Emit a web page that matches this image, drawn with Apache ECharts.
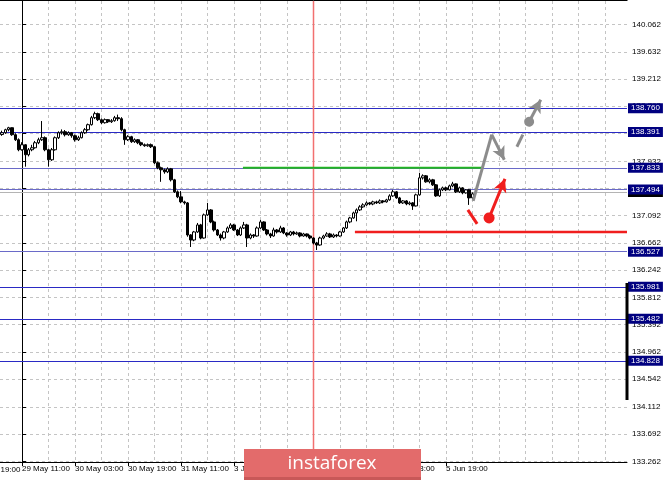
<!DOCTYPE html>
<html><head><meta charset="utf-8">
<script src="https://cdn.jsdelivr.net/npm/echarts@6/dist/echarts.min.js"></script>
<style>html,body{margin:0;padding:0;background:#fff}#c{width:665px;height:480px}</style>
</head><body><div id="c"></div>
<script>
// ---- data ----
// x unit: trading hours counted from 29 May 11:00 (H1 candles)
const xLabelHours = [-16, 0, 16, 32, 48, 64, 80, 96, 112, 128];
const xLabelTexts = ['28 May 19:00','29 May 11:00','30 May 03:00','30 May 19:00','31 May 11:00','3 Jun 03:00','3 Jun 19:00','4 Jun 11:00','5 Jun 03:00','5 Jun 19:00'];
const xGridHours = [0,8,16,24,32,40,48,56,64,72,80,88,96,104,112,120,128,136,144,152,160,168,176];
const priceTicks = ['133.262','133.692','134.112','134.542','134.962','135.392','135.812','136.242','136.662','137.092','137.512','137.932','138.372','138.792','139.212','139.632','140.062'];
const candleStartHour = -6;
// [open, close, low, high]
const candles = [
[138.350,138.378,138.330,138.410],[138.378,138.425,138.360,138.440],[138.425,138.456,138.400,138.470],[138.456,138.347,138.330,138.460],
[138.347,138.269,138.250,138.370],[138.269,138.113,138.090,138.290],[138.113,138.191,138.100,138.230],[138.191,138.035,137.850,138.200],
[138.035,138.113,138.010,138.140],[138.113,138.144,138.090,138.190],[138.144,138.222,138.130,138.250],[138.222,138.269,138.200,138.300],
[138.269,138.300,138.250,138.560],[138.300,138.113,138.090,138.320],[138.113,137.957,137.850,138.130],[137.957,138.113,137.940,138.140],
[138.113,138.300,138.100,138.320],[138.300,138.378,138.280,138.400],[138.378,138.394,138.350,138.430],[138.394,138.347,138.320,138.420],
[138.347,138.378,138.330,138.400],[138.378,138.331,138.300,138.390],[138.331,138.269,138.240,138.350],[138.269,138.300,138.250,138.330],
[138.300,138.378,138.290,138.400],[138.378,138.425,138.360,138.450],[138.425,138.503,138.410,138.520],[138.503,138.612,138.490,138.640],
[138.612,138.674,138.590,138.705],[138.674,138.581,138.560,138.690],[138.581,138.534,138.510,138.600],[138.534,138.581,138.520,138.600],
[138.581,138.549,138.530,138.590],[138.549,138.565,138.530,138.590],[138.565,138.612,138.550,138.640],[138.612,138.596,138.560,138.660],
[138.596,138.425,138.400,138.620],[138.425,138.269,138.190,138.440],[138.269,138.316,138.250,138.340],[138.316,138.238,138.220,138.330],
[138.238,138.269,138.220,138.290],[138.269,138.222,138.200,138.280],[138.222,138.191,138.170,138.240],[138.191,138.175,138.160,138.210],
[138.175,138.191,138.160,138.210],[138.191,138.160,138.140,138.210],[138.160,137.910,137.890,138.170],[137.910,137.832,137.810,137.930],
[137.832,137.801,137.614,137.850],[137.801,137.769,137.740,137.820],[137.769,137.816,137.750,137.840],[137.816,137.645,137.620,137.830],
[137.645,137.458,137.440,137.660],[137.458,137.380,137.360,137.480],[137.380,137.302,137.280,137.470],[137.302,137.286,137.260,137.320],
[137.286,136.787,136.760,137.300],[136.787,136.709,136.600,136.800],[136.709,136.834,136.690,136.850],[136.834,136.943,136.820,136.974],
[136.943,136.740,136.720,136.960],[136.740,137.099,136.730,137.120],[137.099,137.177,137.080,137.286],[137.177,136.990,136.970,137.190],
[136.990,136.865,136.840,137.010],[136.865,136.787,136.770,136.880],[136.787,136.740,136.700,136.810],[136.740,136.834,136.720,136.850],
[136.834,136.896,136.820,136.920],[136.896,136.943,136.880,136.970],[136.943,136.865,136.850,136.960],[136.865,136.787,136.770,136.880],
[136.787,136.896,136.770,136.920],[136.896,136.943,136.880,136.990],[136.943,136.740,136.600,136.960],[136.740,136.787,136.720,136.810],
[136.787,136.771,136.740,136.800],[136.771,136.896,136.760,136.920],[136.896,136.990,136.880,137.021],[136.990,136.865,136.850,137.000],
[136.865,136.803,136.780,136.880],[136.803,136.771,136.740,136.820],[136.771,136.865,136.760,136.900],[136.865,136.834,136.810,136.880],
[136.834,136.896,136.820,136.930],[136.896,136.818,136.800,136.910],[136.818,136.787,136.760,136.830],[136.787,136.834,136.770,136.850],
[136.834,136.803,136.780,136.850],[136.803,136.818,136.790,136.840],[136.818,136.771,136.750,136.830],[136.771,136.803,136.760,136.820],
[136.803,136.771,136.750,136.810],[136.771,136.740,136.720,136.790],[136.740,136.662,136.640,136.750],[136.662,136.631,136.553,136.680],
[136.631,136.740,136.620,136.760],[136.740,136.771,136.720,136.790],[136.771,136.803,136.760,136.830],[136.803,136.756,136.740,136.820],
[136.756,136.787,136.740,136.810],[136.787,136.771,136.750,136.800],[136.771,136.834,136.760,136.850],[136.834,136.896,136.820,136.910],
[136.896,136.990,136.880,137.010],[136.990,137.052,136.970,137.070],[137.052,137.130,137.040,137.150],[137.130,137.177,137.000,137.200],
[137.177,137.224,137.160,137.250],[137.224,137.255,137.210,137.280],[137.255,137.286,137.240,137.310],[137.286,137.270,137.250,137.300],
[137.270,137.302,137.250,137.320],[137.302,137.286,137.270,137.320],[137.286,137.317,137.270,137.340],[137.317,137.302,137.280,137.330],
[137.302,137.333,137.290,137.350],[137.333,137.395,137.320,137.420],[137.395,137.458,137.380,137.489],[137.458,137.364,137.350,137.470],
[137.364,137.286,137.270,137.380],[137.286,137.317,137.270,137.330],[137.317,137.270,137.250,137.330],[137.270,137.286,137.250,137.310],
[137.286,137.239,137.177,137.300],[137.239,137.411,137.230,137.430],[137.411,137.676,137.400,137.754],[137.676,137.707,137.650,137.730],
[137.707,137.614,137.600,137.720],[137.614,137.645,137.590,137.670],[137.645,137.567,137.550,137.660],[137.567,137.395,137.380,137.580],
[137.395,137.489,137.380,137.510],[137.489,137.520,137.470,137.540],[137.520,137.489,137.470,137.540],[137.489,137.551,137.480,137.570],
[137.551,137.582,137.530,137.614],[137.582,137.458,137.440,137.590],[137.458,137.520,137.440,137.540],[137.520,137.442,137.420,137.530],
[137.442,137.489,137.430,137.500],[137.489,137.364,137.255,137.500],[137.364,137.427,137.350,137.450]
];
const levels = [138.760, 138.391, 137.833, 137.494, 136.527, 135.981, 135.482, 134.828];
const lightLevels = [137.833, 137.494, 136.527];
const bidPrice = 137.455;
const markerHour = 88; // 4 Jun 03:00
const greenLine = [[66.7, 137.833], [139.2, 137.833]];
const redLine = [[100.5, 136.834], [182.64, 136.834]];
const redDash = [[134.6, 137.177], [137.4, 136.959]];
const redArrow = [[141.0, 137.052], [145.8, 137.660]];
const greyPath = [[136.2, 137.318], [141.8, 138.348], [145.6, 137.958]];
const greyDash = [[149.4, 138.160], [151.2, 138.348]];
const greyArrow = [[153.1, 138.550], [156.6, 138.892]];

// ---- chart ----
const FONT = '"Liberation Sans", Arial, sans-serif';
const X_MIN = -6.64, X_MAX = 182.64, Y_MIN = 133.254, Y_MAX = 140.428;
const chart = echarts.init(document.getElementById('c'), null, {renderer: 'canvas'});
const gridLine = {show: true, lineStyle: {color: '#c4c4c4', type: [3, 3], width: 1}};
function seg(a, b, extra) { return [Object.assign({coord: a}, extra && extra[0] || {}), Object.assign({coord: b}, extra && extra[1] || {})]; }
const noLabel = {show: false};
const priceLabel = (bg) => ({show: true, position: 'end', distance: 1, backgroundColor: bg, color: '#fff', fontSize: 8, fontFamily: FONT, padding: [1, 3, 1, 3], formatter: p => Number(p.value).toFixed(3)});

const option = {
  animation: false,
  backgroundColor: '#ffffff',
  grid: {left: 0, right: 38, top: 1, bottom: 18},
  xAxis: [{
    type: 'value', min: X_MIN, max: X_MAX, position: 'bottom',
    axisLine: {show: true, lineStyle: {color: '#000', width: 1}},
    axisTick: {show: false, customValues: xGridHours},
    axisLabel: {show: false, customValues: xGridHours},
    splitLine: gridLine
  }, {
    type: 'value', min: X_MIN, max: X_MAX, position: 'bottom',
    axisLine: {show: false},
    axisTick: {show: true, length: 4, customValues: xLabelHours, lineStyle: {color: '#000'}},
    axisLabel: {show: true, customValues: xLabelHours, align: 'left', margin: 3,
      color: '#000', fontSize: 8, fontFamily: FONT,
      formatter: v => xLabelTexts[xLabelHours.indexOf(v)] || ''},
    splitLine: {show: false}
  }],
  yAxis: {
    type: 'value', position: 'right', min: Y_MIN, max: Y_MAX,
    axisLine: {show: true, lineStyle: {color: '#000', width: 1}},
    axisTick: {show: true, length: 4, customValues: priceTicks.map(Number), lineStyle: {color: '#000'}},
    axisLabel: {show: true, customValues: priceTicks.map(Number), margin: 5, color: '#000', fontSize: 8, fontFamily: FONT,
      formatter: v => v.toFixed(3)},
    splitLine: gridLine
  },
  series: [{
    // horizontal levels with price boxes
    type: 'line', xAxisIndex: 0, data: [], silent: true, z: 1,
    markLine: {
      silent: true, symbol: 'none', animation: false, precision: 3, z: 1,
      data: [{yAxis: bidPrice, lineStyle: {color: '#b4b4b4', width: 1, type: 'solid'}, label: priceLabel('#000')}]
        .concat(levels.map(v => ({
          yAxis: v,
          lineStyle: {color: lightLevels.includes(v) ? '#6a6ac8' : '#2a2ac4', width: 1, type: 'solid'},
          label: priceLabel('#000080')
        })))
    }
  }, {
    type: 'line', xAxisIndex: 0, symbol: 'none', silent: true, z: 2,
    data: [[markerHour, Y_MIN], [markerHour, Y_MAX]],
    lineStyle: {color: '#f27070', width: 1.5, opacity: 1}
  }, {
    type: 'candlestick',
    xAxisIndex: 0, z: 3,
    barWidth: 3,
    encode: {x: 0, y: [1, 2, 3, 4]},
    data: candles.map((d, i) => [candleStartHour + i, d[0], d[1], d[2], d[3]]),
    itemStyle: {color: '#ffffff', color0: '#000000', borderColor: '#000000', borderColor0: '#000000', borderWidth: 1}
  }, {
    type: 'line', xAxisIndex: 0, data: greenLine, symbol: 'none', silent: true, z: 5,
    lineStyle: {color: '#22b422', width: 2}
  }, {
    type: 'line', xAxisIndex: 0, data: redLine, symbol: 'none', silent: true, z: 5,
    lineStyle: {color: '#f01e1e', width: 2.5}
  }, {
    type: 'line', xAxisIndex: 0, data: [], silent: true, z: 6,
    markLine: {
      silent: true, animation: false, symbol: 'none', label: noLabel, z: 6,
      data: [
        seg(redDash[0], redDash[1], [{lineStyle: {color: '#f01e1e', width: 3, type: 'solid'}}, {}]),
        seg(redArrow[0], redArrow[1], [{symbol: 'circle', symbolSize: 11, lineStyle: {color: '#f01e1e', width: 3, type: 'solid'}, itemStyle: {color: '#f01e1e'}}, {symbol: 'arrow', symbolSize: [10, 13], itemStyle: {color: '#f01e1e'}}]),
        seg(greyPath[0], greyPath[1], [{lineStyle: {color: '#8c8c8c', width: 3, type: 'solid'}}, {}]),
        seg(greyPath[1], greyPath[2], [{lineStyle: {color: '#8c8c8c', width: 3, type: 'solid'}, itemStyle: {color: '#8c8c8c'}}, {symbol: 'arrow', symbolSize: [10, 13], itemStyle: {color: '#8c8c8c'}}]),
        seg(greyDash[0], greyDash[1], [{lineStyle: {color: '#8c8c8c', width: 3, type: 'solid'}}, {}]),
        seg(greyArrow[0], greyArrow[1], [{symbol: 'circle', symbolSize: 10, lineStyle: {color: '#8c8c8c', width: 3, type: 'solid'}, itemStyle: {color: '#8c8c8c'}}, {symbol: 'arrow', symbolSize: [10, 13], itemStyle: {color: '#8c8c8c'}}])
      ]
    }
  }]
};
chart.setOption(option);

// decorations and partial first time label (position from the axis scale)
const firstX = chart.convertToPixel({xAxisIndex: 1}, xLabelHours[0]);
const axisX = chart.convertToPixel({xAxisIndex: 0}, X_MAX);
chart.setOption({
  graphic: [
    {type: 'line', shape: {x1: 0, y1: 0.5, x2: axisX + 0.5, y2: 0.5}, style: {stroke: '#000', lineWidth: 1}, z: 10},
    {type: 'line', shape: {x1: axisX, y1: 283, x2: axisX, y2: 400}, style: {stroke: '#000', lineWidth: 3}, z: 10},
    {type: 'text', x: firstX + 3, y: 466, style: {text: xLabelTexts[0], fill: '#000', font: '8px ' + FONT}, z: 10},
    {type: 'rect', shape: {x: 244, y: 449, width: 177, height: 31}, style: {fill: '#e36b6b'}, z: 20},
    {type: 'rect', shape: {x: 244, y: 477, width: 177, height: 3}, style: {fill: '#c85858'}, z: 21},
    {type: 'text', x: 332, y: 464, style: {text: 'instaforex', fill: '#fff', font: '19px "Open Sans", sans-serif', align: 'center', verticalAlign: 'middle'}, z: 22}
  ]
});
</script></body></html>
